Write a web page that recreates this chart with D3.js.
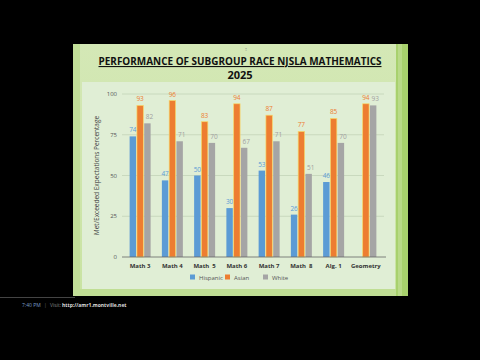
<!DOCTYPE html>
<html>
<head>
<meta charset="utf-8">
<script src="https://cdn.jsdelivr.net/npm/d3@7"></script>
<style>
  body { margin: 0; background: #000; }
  svg { display: block; }
</style>
</head>
<body>
<div id="chart"></div>
<script>
// data
const categories = ["Math 3", "Math 4", "Math  5", "Math 6", "Math 7", "Math  8", "Alg. 1", "Geometry"];
const series = ["Hispanic", "Asian", "White"];
const hispanic = [74, 47, 50, 30, 53, 26, 46, null];
const asian = [93, 96, 83, 94, 87, 77, 85, 94];
const white = [82, 71, 70, 67, 71, 51, 70, 93];
const yTicks = [0, 25, 50, 75, 100];
const colors = ["#5b9bd5", "#ed7d31", "#a5a5a5"];

const W = 480, H = 360;
const svg = d3.select("#chart").append("svg")
    .attr("width", W).attr("height", H)
    .style("font-family", "'Open Sans', 'Noto Sans', sans-serif");

svg.append("rect").attr("width", W).attr("height", H).attr("fill", "#000");

// slide
const defs = svg.append("defs");
const g1 = defs.append("linearGradient").attr("id", "slide").attr("x1", 0).attr("y1", 0).attr("x2", 0).attr("y2", 1);
g1.append("stop").attr("offset", "0%").attr("stop-color", "#d4e8b6");
g1.append("stop").attr("offset", "100%").attr("stop-color", "#c9e3a2");
svg.append("rect").attr("x", 73).attr("y", 44).attr("width", 335).attr("height", 252).attr("fill", "url(#slide)");
svg.append("rect").attr("x", 73).attr("y", 44).attr("width", 7).attr("height", 252).attr("fill", "#c2df98");
svg.append("rect").attr("x", 396).attr("y", 44).attr("width", 12).attr("height", 252).attr("fill", "#a8d16d");
svg.append("rect").attr("x", 398).attr("y", 44).attr("width", 4).attr("height", 252).attr("fill", "#b9da88");
svg.append("rect").attr("x", 80).attr("y", 289).attr("width", 316).attr("height", 7).attr("fill", "#c0de94");

// chart panel
svg.append("rect").attr("x", 82).attr("y", 82).attr("width", 313).attr("height", 207).attr("fill", "#e0eed5");

svg.append("text").attr("x", 246).attr("y", 51).attr("text-anchor", "middle")
    .attr("font-size", 5).attr("fill", "#888").text("↕");

// title
svg.append("text").attr("x", 240).attr("y", 65).attr("text-anchor", "middle")
    .attr("font-size", 11).attr("font-weight", "bold").attr("fill", "#111")
    .attr("text-decoration", "underline")
    .attr("textLength", 283).attr("lengthAdjust", "spacingAndGlyphs")
    .text("PERFORMANCE OF SUBGROUP RACE NJSLA MATHEMATICS");
svg.append("text").attr("x", 240).attr("y", 79).attr("text-anchor", "middle")
    .attr("font-size", 11).attr("font-weight", "bold").attr("fill", "#111")
    .text("2025");

const x = d3.scaleBand().domain(categories).range([124, 382]);
const xSub = d3.scaleBand().domain(series).range([0, 21]).paddingInner(0.12);
const y = d3.scaleLinear().domain([0, 100]).range([257, 94]);

// gridlines
svg.append("g").selectAll("line").data(yTicks.slice(1)).join("line")
    .attr("x1", 122).attr("x2", 384)
    .attr("y1", d => y(d)).attr("y2", d => y(d))
    .attr("stroke", "#c3d3b8").attr("stroke-width", 0.8);

// y axis labels
svg.append("g").selectAll("text").data(yTicks).join("text")
    .attr("x", 117).attr("y", d => y(d) + 2)
    .attr("text-anchor", "end").attr("font-size", 6).attr("fill", "#555")
    .text(d => d);

svg.append("text")
    .attr("transform", "translate(99," + y(50) + ") rotate(-90)")
    .attr("text-anchor", "middle").attr("font-size", 6.5).attr("fill", "#444")
    .text("Met/Exceeded Expectations Percentage");

const rows = categories.map((c, i) => ({cat: c, vals: [hispanic[i], asian[i], white[i]]}));

const groups = svg.append("g").selectAll("g").data(rows).join("g")
    .attr("transform", d => "translate(" + (x(d.cat) + (x.bandwidth() - 21) / 2) + ",0)");

const cells = groups.selectAll("g").data(d => d.vals.map((v, j) => ({key: series[j], j: j, value: v})).filter(e => e.value != null))
    .join("g");

cells.append("rect")
    .attr("x", d => xSub(d.key))
    .attr("y", d => y(d.value))
    .attr("width", xSub.bandwidth())
    .attr("height", d => y(0) - y(d.value))
    .attr("fill", d => colors[d.j])
    .attr("stroke", d => d.j == 1 ? "#f6d86a" : "none")
    .attr("stroke-width", 0.7);

cells.append("text")
    .attr("x", d => xSub(d.key) + xSub.bandwidth() / 2 + (d.j == 2 ? 2 : 0))
    .attr("y", d => y(d.value) - 4)
    .attr("text-anchor", "middle").attr("font-size", 6.5)
    .attr("fill", d => d.j == 2 ? "#a0a0a0" : colors[d.j])
    .text(d => d.value);

// x axis
svg.append("line").attr("x1", 122).attr("x2", 386).attr("y1", y(0)).attr("y2", y(0))
    .attr("stroke", "#666").attr("stroke-width", 0.8);
svg.append("g").selectAll("text").data(categories).join("text")
    .attr("x", d => x(d) + x.bandwidth() / 2).attr("y", 268)
    .attr("text-anchor", "middle").attr("font-size", 6).attr("font-weight", "bold")
    .attr("fill", "#333").style("white-space", "pre")
    .text(d => d);

// legend
const legendX = [190, 225, 263];
series.forEach((s, i) => {
  svg.append("rect").attr("x", legendX[i]).attr("y", 274.5).attr("width", 5).attr("height", 5).attr("fill", colors[i]);
  svg.append("text").attr("x", legendX[i] + 9).attr("y", 279.5)
      .attr("font-size", 6).attr("fill", "#555").text(s);
});

// footer
svg.append("line").attr("x1", 0).attr("x2", 75).attr("y1", 297.5).attr("y2", 297.5).attr("stroke", "#444");
svg.append("text").attr("x", 22).attr("y", 307).attr("font-size", 5).attr("fill", "#7a9cc6").text("7:40 PM");
svg.append("text").attr("x", 44).attr("y", 307).attr("font-size", 5).attr("fill", "#666").text("|");
svg.append("text").attr("x", 50).attr("y", 307).attr("font-size", 5).attr("fill", "#888").text("Visit:");
svg.append("text").attr("x", 62).attr("y", 307).attr("font-size", 5).attr("font-weight", "bold").attr("fill", "#ddd").text("http://amr1.montville.net");
</script>
</body>
</html>
